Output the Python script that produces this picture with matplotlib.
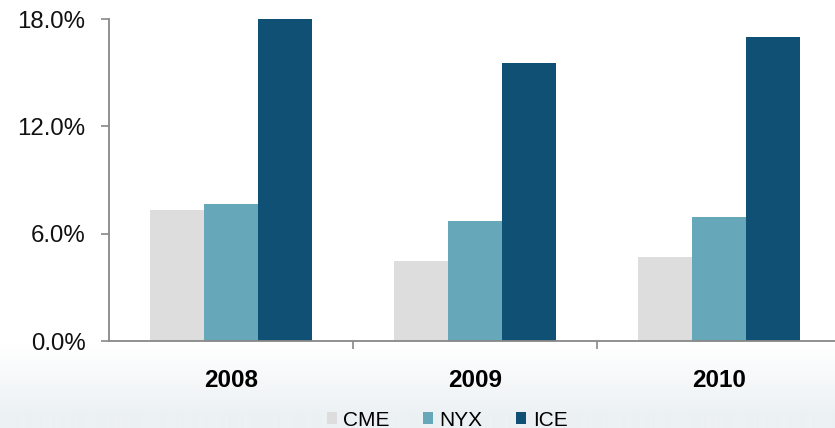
import matplotlib
matplotlib.use("Agg")
import matplotlib.pyplot as plt
import numpy as np
from matplotlib.patches import Patch
from matplotlib.ticker import FixedLocator

years = ["2008", "2009", "2010"]
series_names = ["CME", "NYX", "ICE"]
cme = [7.32, 4.47, 4.70]
nyx = [7.64, 6.71, 6.93]
ice = [18.0, 15.54, 16.99]
colors = ["#DDDDDD", "#66A8BA", "#105075"]
yticks = [0, 6, 12, 18]
ytick_labels = ["0.0%", "6.0%", "12.0%", "18.0%"]

plt.rcParams['font.family'] = ['Liberation Sans', 'DejaVu Sans']

W, H = 835, 428
fig = plt.figure(figsize=(W / 100, H / 100), dpi=100)

# background gradient
bg = fig.add_axes([0, 0, 1, 1], zorder=-10)
bg.axis("off")
n = 428
grad = np.ones((n, 1, 3))
top_c = np.array([1.0, 1.0, 1.0])
bot_c = np.array([0xEC, 0xF1, 0xF3]) / 255.0
for i in range(n):
    y = i
    if y < 345:
        t = 0
    else:
        t = min(1.0, (y - 345) / 70.0)
    grad[i, 0, :] = top_c * (1 - t) + bot_c * t
bg.imshow(grad, aspect="auto", extent=[0, 1, 0, 1])
bg.set_xlim(0, 1)
bg.set_ylim(0, 1)

ax = fig.add_axes([109 / W, 1 - 341 / H, (841 - 109) / W, (341 - 19) / H])
ax.patch.set_alpha(0)

x = np.arange(len(years))
bw = 0.221
for k, (vals, c, name) in enumerate(zip([cme, nyx, ice], colors, series_names)):
    ax.bar(x + (k - 1) * bw, vals, width=bw, color=c, label=name, zorder=2)

ax.set_xlim(-0.5, 2.5)
ax.set_ylim(0, 18)
ax.set_yticks(yticks)
ax.set_yticklabels(ytick_labels, fontsize=17.3, color="#111111")
ax.set_xticks(x)
ax.set_xticklabels(years, fontsize=17.5, fontweight="bold")
ax.xaxis.set_minor_locator(FixedLocator([0.5, 1.5]))
ax.tick_params(axis="x", which="major", length=0, pad=20)
ax.tick_params(axis="x", which="minor", length=6, width=1.2, color="#888888", direction="out")
ax.tick_params(axis="y", length=6, width=1.2, color="#888888", pad=11)

for s in ["top", "right"]:
    ax.spines[s].set_visible(False)
for s in ["left", "bottom"]:
    ax.spines[s].set_color("#888888")
    ax.spines[s].set_linewidth(1.3)
ax.spines["left"].set_bounds(0, 18)

handles = [Patch(facecolor=c, edgecolor="none", label=nm) for c, nm in zip(colors, series_names)]
fig.legend(handles=handles, loc="center", bbox_to_anchor=(447 / W, 1 - 420 / H),
           ncol=3, frameon=False, fontsize=15, handlelength=0.5, handleheight=0.5,
           handletextpad=0.3, columnspacing=1.6, borderaxespad=0)

fig.savefig("out.png", dpi=100)
